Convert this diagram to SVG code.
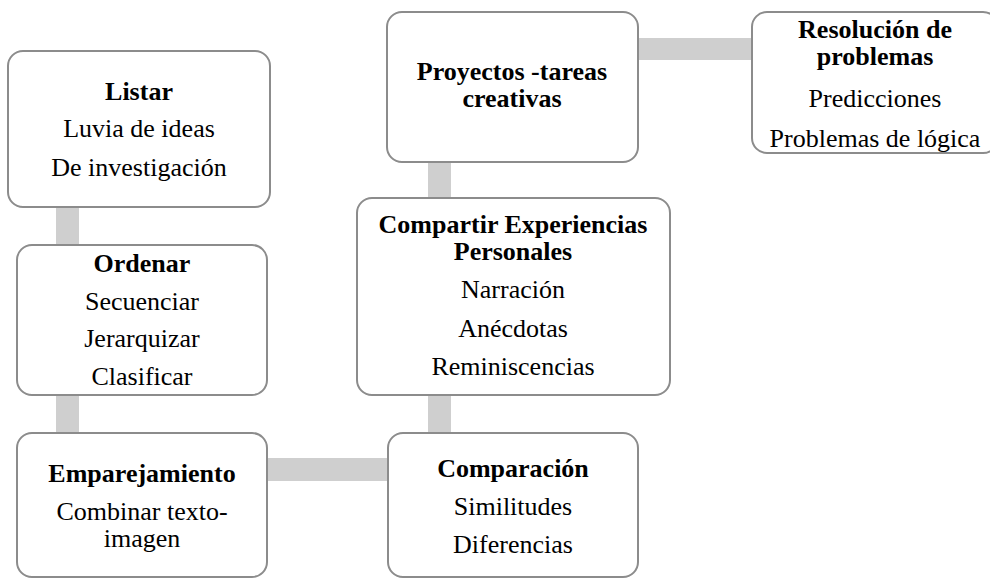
<svg xmlns="http://www.w3.org/2000/svg" width="990" height="579" viewBox="0 0 990 579">
<style>
.box{fill:#fff;stroke:#8c8c8c;stroke-width:2}
.con{fill:#cfcfcf}
text{font-family:"Liberation Serif","Times New Roman",serif;font-size:26px;fill:#000;text-anchor:middle}
.b{font-weight:bold}
</style>
<rect width="990" height="579" fill="#fff"/>
<g id="connectors">
<rect class="con" x="56" y="206" width="23" height="40"/>
<rect class="con" x="56" y="394" width="23" height="40"/>
<rect class="con" x="266" y="458" width="123" height="23"/>
<rect class="con" x="428" y="394" width="23" height="40"/>
<rect class="con" x="428" y="161" width="23" height="38"/>
<rect class="con" x="637" y="38" width="116" height="22"/>
</g>
<g id="listar">
<rect class="box" x="8" y="51" width="262" height="156" rx="15"/>
<text x="139" y="100" class="b">Listar</text>
<text x="139" y="137">Luvia de ideas</text>
<text x="139" y="176">De investigación</text>
</g>
<g id="ordenar">
<rect class="box" x="17" y="245" width="250" height="150" rx="15"/>
<text x="142" y="272" class="b">Ordenar</text>
<text x="142" y="310">Secuenciar</text>
<text x="142" y="347">Jerarquizar</text>
<text x="142" y="385">Clasificar</text>
</g>
<g id="emparejamiento">
<rect class="box" x="17" y="433" width="250" height="144" rx="15"/>
<text x="142" y="482" class="b">Emparejamiento</text>
<text x="142" y="520">Combinar texto-</text>
<text x="142" y="547">imagen</text>
</g>
<g id="comparacion">
<rect class="box" x="388" y="433" width="250" height="144" rx="15"/>
<text x="513" y="477" class="b">Comparación</text>
<text x="513" y="515">Similitudes</text>
<text x="513" y="553">Diferencias</text>
</g>
<g id="compartir">
<rect class="box" x="357" y="198" width="313" height="197" rx="15"/>
<text x="513" y="233" class="b">Compartir Experiencias</text>
<text x="513" y="260" class="b">Personales</text>
<text x="513" y="298">Narración</text>
<text x="513" y="337">Anécdotas</text>
<text x="513" y="375">Reminiscencias</text>
</g>
<g id="proyectos">
<rect class="box" x="387" y="12" width="251" height="150" rx="15"/>
<text x="512" y="80" class="b">Proyectos -tareas</text>
<text x="512" y="107" class="b">creativas</text>
</g>
<g id="resolucion">
<rect class="box" x="752" y="12" width="246" height="141" rx="15"/>
<text x="875" y="38" class="b">Resolución de</text>
<text x="875" y="65" class="b">problemas</text>
<text x="875" y="107">Predicciones</text>
<text x="875" y="147">Problemas de lógica</text>
</g>
</svg>
